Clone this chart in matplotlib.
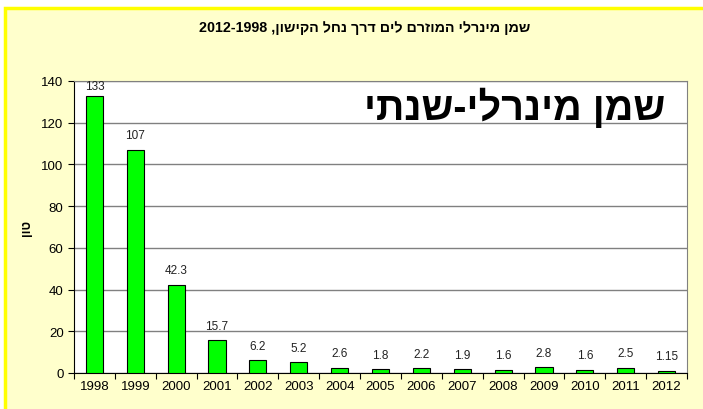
import matplotlib.pyplot as plt
import matplotlib.patches as patches
import numpy as np

plt.rcParams['font.family'] = ['Liberation Sans', 'DejaVu Sans']

years = ['1998', '1999', '2000', '2001', '2002', '2003', '2004', '2005',
         '2006', '2007', '2008', '2009', '2010', '2011', '2012']
oil_tons = [133, 107, 42.3, 15.7, 6.2, 5.2, 2.6, 1.8, 2.2, 1.9, 1.6, 2.8, 1.6, 2.5, 1.15]
value_labels = ['133', '107', '42.3', '15.7', '6.2', '5.2', '2.6', '1.8',
                '2.2', '1.9', '1.6', '2.8', '1.6', '2.5', '1.15']

# hebrew strings in logical order, reversed for drawing (matplotlib has no bidi)
title_heb = 'שמן מינרלי המוזרם לים דרך נחל הקישון,'
title = '2012-1998 ' + title_heb[::-1]
ylabel = 'טון'[::-1]
big_text = 'שמן מינרלי-שנתי'[::-1]

fig = plt.figure(figsize=(7.03, 4.10), dpi=100)
fig.patch.set_facecolor('white')
fig.add_artist(patches.Rectangle((4.5 / 703, -0.02), 1.0, (410 - 9) / 410 + 0.02,
                                 transform=fig.transFigure, facecolor='#FFFFCC',
                                 edgecolor='#FFFF00', lw=2.5, zorder=0))

ax = fig.add_axes([74 / 703, 36 / 410, 613 / 703, 292 / 410])
ax.set_facecolor('white')

x = np.arange(len(years))
ax.bar(x, oil_tons, width=0.42, color='#00FF00', edgecolor='black', lw=0.8, zorder=3)

for xi, v, lab in zip(x, oil_tons, value_labels):
    ax.text(xi, min(v + 4, 134.5), lab, ha='center', va='bottom', fontsize=8.5, color='#222222')

ax.set_xlim(-0.5, len(years) - 0.5)
ax.set_ylim(0, 140)
ax.set_yticks(np.arange(0, 141, 20))
ax.set_xticks(np.arange(len(years) + 1) - 0.5)
ax.set_xticklabels([])
ax.set_xticks(x, minor=True)
ax.set_xticklabels(years, minor=True, fontsize=9.5)
ax.tick_params(axis='x', which='minor', length=0, pad=5)
ax.tick_params(axis='x', which='major', length=4, direction='out')
ax.tick_params(axis='y', labelsize=9.5, length=4, direction='out')
ax.grid(axis='y', color='#808080', lw=1, zorder=1)

for side in ['top', 'right']:
    ax.spines[side].set_color('#808080')
for side in ['left', 'bottom']:
    ax.spines[side].set_color('black')

ax.text(0.964, 0.87, big_text, transform=ax.transAxes, fontsize=28.5, fontweight='bold',
        ha='right', va='baseline', zorder=5)

fig.text(365 / 703, 1 - 28 / 410, title, ha='center', va='center',
         fontsize=10.3, fontweight='bold')
fig.text(27 / 703, 1 - 228 / 410, ylabel, ha='center', va='center', rotation=90,
         fontsize=9, fontweight='bold')

fig.savefig('out.png', dpi=100)
